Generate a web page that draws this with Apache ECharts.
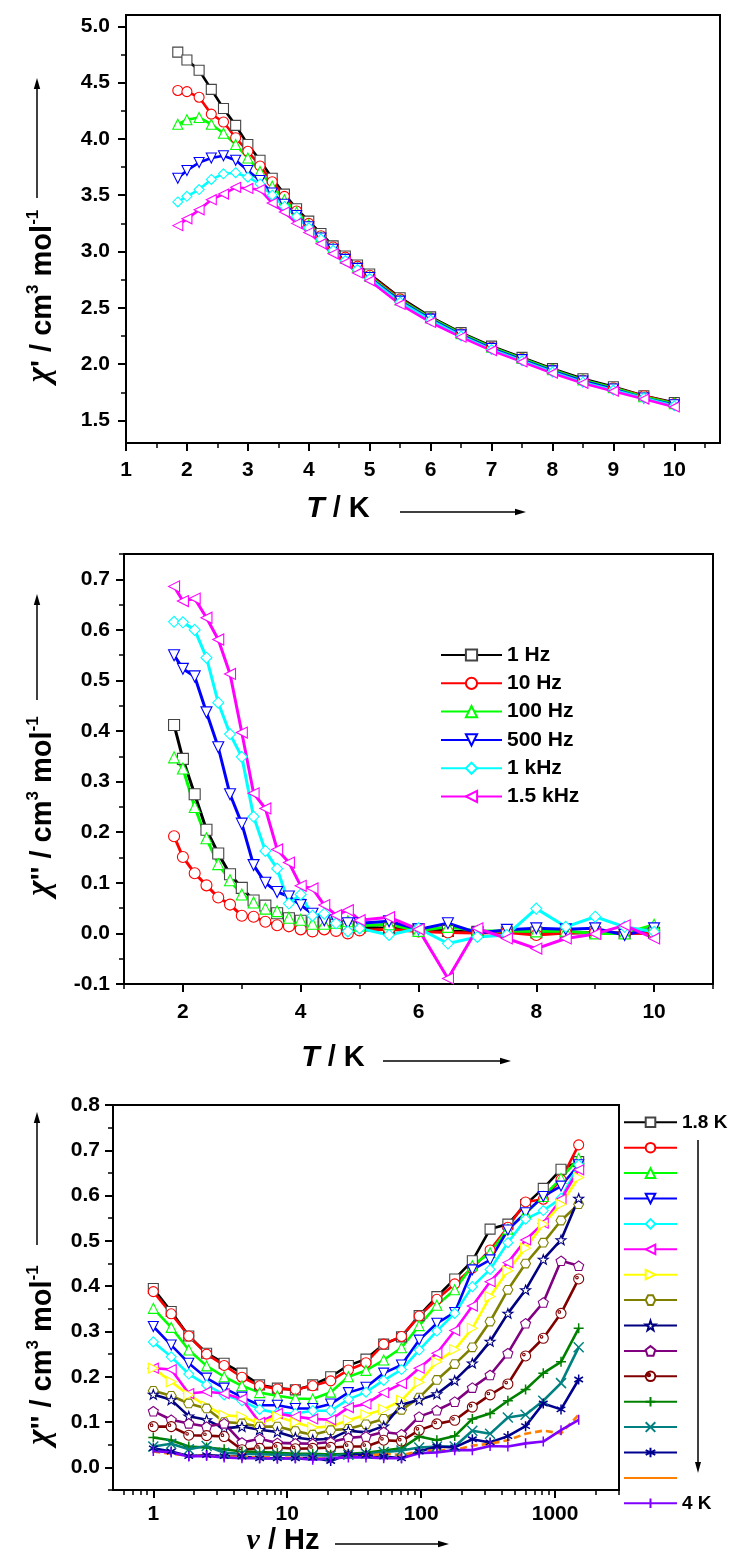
<!DOCTYPE html>
<html><head><meta charset="utf-8">
<script src="https://cdn.jsdelivr.net/npm/echarts@6/dist/echarts.min.js"></script>
<style>html,body{margin:0;padding:0;background:#fff}#c{width:733px;height:1558px}</style>
</head><body><div id="c"></div>
<script>
// ---------- Panel 1 & 2: temperature sweep ----------
const T = [1.85, 2.0, 2.2, 2.4, 2.6, 2.8, 3.0, 3.2, 3.4, 3.6, 3.8, 4.0, 4.2, 4.4, 4.6, 4.8, 5.0, 5.5, 6.0, 6.5, 7.0, 7.5, 8.0, 8.5, 9.0, 9.5, 10.0];
const freqNames = ['1 Hz', '10 Hz', '100 Hz', '500 Hz', '1 kHz', '1.5 kHz'];

const chiP_1Hz    = [4.77, 4.70, 4.61, 4.44, 4.27, 4.12, 3.95, 3.81, 3.65, 3.51, 3.38, 3.27, 3.16, 3.05, 2.96, 2.88, 2.80, 2.59, 2.42, 2.28, 2.16, 2.06, 1.96, 1.87, 1.80, 1.72, 1.66];
const chiP_10Hz   = [4.43, 4.42, 4.37, 4.22, 4.15, 4.01, 3.89, 3.76, 3.62, 3.49, 3.36, 3.25, 3.14, 3.04, 2.95, 2.87, 2.79, 2.58, 2.41, 2.27, 2.15, 2.05, 1.95, 1.86, 1.79, 1.72, 1.65];
const chiP_100Hz  = [4.13, 4.17, 4.19, 4.13, 4.05, 3.95, 3.83, 3.71, 3.58, 3.46, 3.35, 3.24, 3.13, 3.03, 2.94, 2.86, 2.78, 2.57, 2.41, 2.27, 2.15, 2.05, 1.95, 1.86, 1.79, 1.71, 1.65];
const chiP_500Hz  = [3.65, 3.72, 3.79, 3.83, 3.85, 3.81, 3.72, 3.63, 3.52, 3.42, 3.32, 3.22, 3.12, 3.02, 2.93, 2.85, 2.77, 2.56, 2.40, 2.26, 2.14, 2.04, 1.94, 1.85, 1.78, 1.70, 1.64];
const chiP_1kHz   = [3.44, 3.49, 3.55, 3.64, 3.69, 3.70, 3.66, 3.60, 3.50, 3.40, 3.31, 3.21, 3.11, 3.01, 2.92, 2.84, 2.76, 2.55, 2.39, 2.25, 2.13, 2.03, 1.93, 1.84, 1.77, 1.70, 1.63];
const chiP_1p5kHz = [3.23, 3.29, 3.37, 3.46, 3.51, 3.57, 3.56, 3.55, 3.43, 3.35, 3.25, 3.17, 3.07, 2.98, 2.90, 2.81, 2.74, 2.53, 2.37, 2.24, 2.12, 2.02, 1.92, 1.83, 1.76, 1.69, 1.62];

const chiPP_1Hz    = [0.412, 0.345, 0.275, 0.205, 0.158, 0.117, 0.090, 0.065, 0.055, 0.040, 0.030, 0.025, 0.022, 0.020, 0.017, 0.014, 0.012, 0.010, 0.008, 0.005, 0.003, 0.002, 0.002, 0.001, 0.002, 0.001, 0.001];
const chiPP_10Hz   = [0.192, 0.151, 0.119, 0.095, 0.071, 0.057, 0.035, 0.033, 0.023, 0.016, 0.014, 0.008, 0.004, 0.008, 0.005, 0.000, 0.006, 0.008, 0.004, 0.002, 0.001, 0.002, -0.003, 0.001, 0.002, 0.000, 0.001];
const chiPP_100Hz  = [0.348, 0.326, 0.250, 0.188, 0.137, 0.105, 0.077, 0.061, 0.049, 0.044, 0.031, 0.027, 0.019, 0.019, 0.021, 0.024, 0.015, 0.018, 0.005, 0.013, 0.005, 0.005, 0.004, 0.005, 0.000, 0.000, 0.017];
const chiPP_500Hz  = [0.550, 0.523, 0.508, 0.437, 0.368, 0.275, 0.217, 0.135, 0.100, 0.082, 0.073, 0.056, 0.039, 0.026, 0.026, 0.020, 0.020, 0.024, 0.008, 0.020, 0.001, 0.007, 0.010, 0.008, 0.010, -0.003, 0.010];
const chiPP_1kHz   = [0.616, 0.615, 0.600, 0.545, 0.456, 0.394, 0.349, 0.231, 0.163, 0.128, 0.059, 0.077, 0.035, 0.039, 0.020, 0.004, 0.010, -0.003, 0.010, -0.020, -0.007, -0.003, 0.049, 0.013, 0.033, 0.013, 0.003];
const chiPP_1p5kHz = [0.686, 0.657, 0.662, 0.624, 0.581, 0.513, 0.397, 0.277, 0.247, 0.166, 0.140, 0.094, 0.089, 0.056, 0.036, 0.046, 0.026, 0.032, 0.008, -0.089, 0.010, -0.010, -0.030, -0.010, -0.001, 0.016, -0.010];

// ---------- Panel 3: frequency sweep ----------
const nu = [1, 1.36, 1.84, 2.5, 3.38, 4.59, 6.22, 8.44, 11.5, 15.5, 21.1, 28.6, 38.7, 52.5, 71.3, 96.6, 131, 178, 241, 327, 444, 602, 816, 1107, 1500];
const tempNames = ['1.8 K', '1.9 K', '2.0 K', '2.1 K', '2.2 K', '2.3 K', '2.4 K', '2.5 K', '2.6 K', '2.8 K', '3.0 K', '3.2 K', '3.4 K', '3.6 K', '3.8 K', '4 K'];
const v01 = [0.395, 0.344, 0.290, 0.252, 0.230, 0.208, 0.182, 0.175, 0.171, 0.182, 0.200, 0.225, 0.239, 0.272, 0.288, 0.335, 0.377, 0.416, 0.456, 0.526, 0.537, 0.580, 0.616, 0.658, 0.675];
const v02 = [0.388, 0.339, 0.290, 0.250, 0.225, 0.199, 0.180, 0.173, 0.172, 0.180, 0.191, 0.215, 0.231, 0.272, 0.289, 0.334, 0.371, 0.405, 0.440, 0.480, 0.530, 0.586, 0.592, 0.635, 0.712];
const v03 = [0.351, 0.309, 0.259, 0.224, 0.200, 0.180, 0.165, 0.158, 0.152, 0.151, 0.166, 0.200, 0.214, 0.237, 0.264, 0.313, 0.358, 0.392, 0.445, 0.474, 0.526, 0.561, 0.598, 0.638, 0.682];
const v04 = [0.311, 0.270, 0.230, 0.197, 0.175, 0.155, 0.137, 0.137, 0.130, 0.130, 0.140, 0.165, 0.177, 0.208, 0.226, 0.281, 0.318, 0.342, 0.436, 0.458, 0.524, 0.562, 0.598, 0.621, 0.668];
const v05 = [0.277, 0.244, 0.206, 0.182, 0.160, 0.147, 0.128, 0.120, 0.119, 0.125, 0.125, 0.150, 0.166, 0.192, 0.216, 0.259, 0.301, 0.340, 0.399, 0.437, 0.496, 0.548, 0.567, 0.594, 0.668];
const v06 = [0.219, 0.216, 0.163, 0.167, 0.163, 0.151, 0.099, 0.119, 0.112, 0.107, 0.105, 0.132, 0.140, 0.165, 0.185, 0.219, 0.252, 0.302, 0.356, 0.410, 0.452, 0.502, 0.539, 0.592, 0.657];
const v07 = [0.219, 0.189, 0.160, 0.135, 0.115, 0.112, 0.097, 0.112, 0.099, 0.088, 0.090, 0.104, 0.116, 0.128, 0.148, 0.188, 0.233, 0.260, 0.307, 0.377, 0.434, 0.484, 0.537, 0.581, 0.640];
const v08 = [0.169, 0.158, 0.141, 0.130, 0.100, 0.097, 0.090, 0.090, 0.080, 0.072, 0.082, 0.085, 0.095, 0.107, 0.127, 0.154, 0.193, 0.228, 0.265, 0.322, 0.392, 0.450, 0.496, 0.545, 0.581];
const v09 = [0.161, 0.149, 0.113, 0.105, 0.086, 0.090, 0.083, 0.078, 0.066, 0.061, 0.063, 0.081, 0.077, 0.091, 0.138, 0.149, 0.162, 0.192, 0.230, 0.278, 0.340, 0.392, 0.459, 0.502, 0.594];
const v10 = [0.124, 0.105, 0.097, 0.090, 0.097, 0.055, 0.063, 0.054, 0.053, 0.052, 0.056, 0.065, 0.068, 0.078, 0.073, 0.112, 0.126, 0.145, 0.176, 0.204, 0.252, 0.318, 0.364, 0.456, 0.445];
const v11 = [0.090, 0.090, 0.071, 0.070, 0.068, 0.039, 0.042, 0.044, 0.041, 0.042, 0.044, 0.046, 0.046, 0.060, 0.058, 0.082, 0.096, 0.104, 0.133, 0.160, 0.184, 0.246, 0.285, 0.340, 0.416];
const v12 = [0.066, 0.060, 0.046, 0.044, 0.040, 0.035, 0.034, 0.032, 0.030, 0.030, 0.028, 0.030, 0.032, 0.037, 0.042, 0.068, 0.060, 0.069, 0.107, 0.119, 0.147, 0.172, 0.208, 0.233, 0.307];
const v13 = [0.046, 0.052, 0.040, 0.047, 0.032, 0.030, 0.029, 0.028, 0.028, 0.027, 0.026, 0.028, 0.030, 0.034, 0.037, 0.044, 0.046, 0.046, 0.081, 0.074, 0.110, 0.116, 0.147, 0.186, 0.265];
const v14 = [0.042, 0.035, 0.025, 0.027, 0.025, 0.024, 0.020, 0.020, 0.020, 0.021, 0.014, 0.029, 0.027, 0.024, 0.020, 0.035, 0.046, 0.044, 0.062, 0.055, 0.069, 0.091, 0.141, 0.128, 0.194];
const v15 = [0.035, 0.030, 0.026, 0.025, 0.024, 0.023, 0.022, 0.022, 0.021, 0.019, 0.020, 0.022, 0.025, 0.030, 0.027, 0.035, 0.038, 0.038, 0.048, 0.052, 0.060, 0.074, 0.081, 0.075, 0.116];
const v16 = [0.036, 0.033, 0.024, 0.025, 0.022, 0.020, 0.020, 0.019, 0.020, 0.017, 0.020, 0.022, 0.022, 0.020, 0.020, 0.031, 0.033, 0.038, 0.038, 0.047, 0.046, 0.053, 0.057, 0.082, 0.105];

// ---------- tick values ----------
const p1xTicks = [1, 2, 3, 4, 5, 6, 7, 8, 9, 10];
const p1xMinor = [1.5, 2.5, 3.5, 4.5, 5.5, 6.5, 7.5, 8.5, 9.5, 10.5];
const p1yTicks = [1.5, 2.0, 2.5, 3.0, 3.5, 4.0, 4.5, 5.0];
const p1yMinor = [1.75, 2.25, 2.75, 3.25, 3.75, 4.25, 4.75];
const p2xTicks = [2, 4, 6, 8, 10];
const p2xMinor = [1, 3, 5, 7, 9, 11];
const p2yTicks = [-0.1, 0.0, 0.1, 0.2, 0.3, 0.4, 0.5, 0.6, 0.7];
const p2yMinor = [-0.05, 0.05, 0.15, 0.25, 0.35, 0.45, 0.55, 0.65, 0.75];
const p3xTicks = [1, 10, 100, 1000];
const p3xMinor = [0.6, 0.7, 0.8, 0.9, 2, 3, 4, 5, 6, 7, 8, 9, 20, 30, 40, 50, 60, 70, 80, 90, 200, 300, 400, 500, 600, 700, 800, 900, 2000, 3000];
const p3yTicks = [0.0, 0.1, 0.2, 0.3, 0.4, 0.5, 0.6, 0.7, 0.8];
const p3yMinor = [-0.05, 0.05, 0.15, 0.25, 0.35, 0.45, 0.55, 0.65, 0.75];

// ---------- styles ----------
const FONT = '"Liberation Sans", Arial, sans-serif';
const HEX = 'path://M2.5,0.67L7.5,0.67L10,5L7.5,9.33L2.5,9.33L0,5Z';
const STAR = 'path://M5,0L6.18,3.38L9.76,3.45L6.9,5.62L7.94,9.05L5,7L2.06,9.05L3.1,5.62L0.24,3.45L3.82,3.38Z';
const PENT = 'path://M5,0L9.76,3.45L7.94,9.05L2.06,9.05L0.24,3.45Z';
const SPH = 'path://M10,5A5,5,0,1,1,0,5A5,5,0,1,1,10,5ZM4.6,3.6A1.3,1.3,0,1,1,2,3.6A1.3,1.3,0,1,1,4.6,3.6Z';
const PLUS = 'path://M5,0L5,10M0,5L10,5';
const CROSS = 'path://M0,0L10,10M10,0L0,10';
const AST = 'path://M5,0L5,10M0.67,2.5L9.33,7.5M9.33,2.5L0.67,7.5';
const VBAR = 'path://M5,0L5,10M0,5L0.01,5M9.99,5L10,5';

const hzStyles = [
  { c: '#000000', b: '#444444', s: 'rect', r: 0 },
  { c: '#ff0000', s: 'circle', r: 0 },
  { c: '#00ff00', s: 'triangle', r: 0 },
  { c: '#0000ff', s: 'triangle', r: 180 },
  { c: '#00ffff', s: 'diamond', r: 0 },
  { c: '#ff00ff', s: 'triangle', r: 90 }
];
const tStyles = [
  { c: '#000000', b: '#444444', s: 'rect' },
  { c: '#ff0000', s: 'circle' },
  { c: '#00ff00', s: 'triangle' },
  { c: '#0000ff', s: 'triangle', r: 180 },
  { c: '#00ffff', s: 'diamond' },
  { c: '#ff00ff', s: 'triangle', r: 90 },
  { c: '#ffff00', s: 'triangle', r: -90 },
  { c: '#808000', s: HEX },
  { c: '#000080', s: STAR },
  { c: '#800080', s: PENT },
  { c: '#800000', s: SPH },
  { c: '#008000', s: PLUS, open: true },
  { c: '#008080', s: CROSS, open: true },
  { c: '#000090', s: AST, open: true },
  { c: '#ff8000', s: 'circle', none: true, dash: true },
  { c: '#8000ff', s: VBAR, open: true }
];

function mkSeries(name, xs, ys, st, ai, lw, ss) {
  return {
    type: 'line', name: name, xAxisIndex: ai, yAxisIndex: ai,
    data: xs.map((x, i) => [x, ys[i]]),
    symbol: st.s, symbolSize: st.none ? 1 : ss, symbolRotate: st.r || 0, symbolKeepAspect: true,
    showSymbol: true, animation: false, silent: true,
    lineStyle: { color: st.c, width: lw, type: st.dash ? [7, 4] : 'solid' },
    itemStyle: st.none ? { color: 'rgba(0,0,0,0)', borderWidth: 0 } :
      { color: '#ffffff', borderColor: st.b || st.c, borderWidth: st.open ? 1.5 : 1.1 },
    emphasis: { disabled: true }
  };
}

const lbl = { fontFamily: FONT, fontWeight: 'bold', fontSize: 21, color: '#000' };
function mainX(gi, type, min, max, ticks, margin) {
  return { gridIndex: gi, type: type, position: 'bottom', min: min, max: max, logBase: 10,
    axisLine: { onZero: false, lineStyle: { color: '#000', width: 2 } },
    axisTick: { customValues: ticks, length: 8, lineStyle: { color: '#000', width: 2 } },
    axisLabel: Object.assign({ customValues: ticks, margin: margin, formatter: v => String(v) }, lbl),
    splitLine: { show: false }, minorTick: { show: false } };
}
function minorX(gi, type, min, max, ticks) {
  return { gridIndex: gi, type: type, position: 'bottom', min: min, max: max, logBase: 10,
    axisLine: { show: false, onZero: false },
    axisTick: { customValues: ticks, length: 5, lineStyle: { color: '#000', width: 1.5 } },
    axisLabel: { show: false }, splitLine: { show: false } };
}
function mainY(gi, min, max, ticks, margin) {
  return { gridIndex: gi, type: 'value', position: 'left', min: min, max: max,
    axisLine: { onZero: false, lineStyle: { color: '#000', width: 2 } },
    axisTick: { customValues: ticks, length: 8, lineStyle: { color: '#000', width: 2 } },
    axisLabel: Object.assign({ customValues: ticks, margin: margin, formatter: v => Number(v).toFixed(1) }, lbl),
    splitLine: { show: false } };
}
function minorY(gi, min, max, ticks) {
  return { gridIndex: gi, type: 'value', position: 'left', min: min, max: max,
    axisLine: { show: false, onZero: false },
    axisTick: { customValues: ticks, length: 5, lineStyle: { color: '#000', width: 1.5 } },
    axisLabel: { show: false }, splitLine: { show: false } };
}

const chiPSets = [chiP_1Hz, chiP_10Hz, chiP_100Hz, chiP_500Hz, chiP_1kHz, chiP_1p5kHz];
const chiPPSets = [chiPP_1Hz, chiPP_10Hz, chiPP_100Hz, chiPP_500Hz, chiPP_1kHz, chiPP_1p5kHz];
const nuSets = [v01, v02, v03, v04, v05, v06, v07, v08, v09, v10, v11, v12, v13, v14, v15, v16];

const series = [];
freqNames.forEach((n, k) => series.push(mkSeries(n, T, chiPSets[k], hzStyles[k], 0, 2.6, 10)));
freqNames.forEach((n, k) => series.push(mkSeries(n, T, chiPPSets[k], hzStyles[k], 2, 3, 11)));
tempNames.forEach((n, k) => series.push(mkSeries(n, nu, nuSets[k], tStyles[k], 4, 2.6, 10)));

// ---------- titles ----------
function yTitle(x, y, primes) {
  return { type: 'text', x: x, y: y, rotation: Math.PI / 2, silent: true,
    style: { text: '{g|χ}{n|' + primes + ' / cm}{s|3}{n| mol}{s|-1}', align: 'center', verticalAlign: 'middle',
      rich: {
        g: { fontFamily: '"Liberation Serif", serif', fontStyle: 'italic', fontWeight: 'bold', fontSize: 33, fill: '#000', verticalAlign: 'bottom', lineHeight: 32 },
        n: { fontFamily: FONT, fontWeight: 'bold', fontSize: 29, fill: '#000', verticalAlign: 'bottom', lineHeight: 32 },
        s: { fontFamily: FONT, fontWeight: 'bold', fontSize: 17, fill: '#000', verticalAlign: 'top', lineHeight: 17 }
      } } };
}
function xTitle(x, y, first, firstFont, rest) {
  return { type: 'text', x: x, y: y, silent: true,
    style: { text: '{a|' + first + '}{n|' + rest + '}', align: 'center', verticalAlign: 'middle',
      rich: {
        a: { fontFamily: firstFont, fontStyle: 'italic', fontWeight: 'bold', fontSize: 30, fill: '#000' },
        n: { fontFamily: FONT, fontWeight: 'bold', fontSize: 29, fill: '#000' }
      } } };
}
function arrowUp(x, y0, y1) {
  return [
    { type: 'line', silent: true, shape: { x1: x, y1: y0, x2: x, y2: y1 + 8 }, style: { stroke: '#000', lineWidth: 1.5 } },
    { type: 'polygon', silent: true, shape: { points: [[x, y1], [x - 3.2, y1 + 11], [x + 3.2, y1 + 11]] }, style: { fill: '#000' } }
  ];
}
function arrowRight(y, x0, x1) {
  return [
    { type: 'line', silent: true, shape: { x1: x0, y1: y, x2: x1 - 8, y2: y }, style: { stroke: '#000', lineWidth: 1.5 } },
    { type: 'polygon', silent: true, shape: { points: [[x1, y], [x1 - 11, y - 3.2], [x1 - 11, y + 3.2]] }, style: { fill: '#000' } }
  ];
}
function arrowDown(x, y0, y1) {
  return [
    { type: 'line', silent: true, shape: { x1: x, y1: y0, x2: x, y2: y1 - 8 }, style: { stroke: '#000', lineWidth: 1.5 } },
    { type: 'polygon', silent: true, shape: { points: [[x, y1], [x - 3, y1 - 11], [x + 3, y1 - 11]] }, style: { fill: '#000' } }
  ];
}

const graphics = [].concat(
  [yTitle(41, 296, "'")], arrowUp(37, 198, 78),
  [xTitle(338, 509, 'T', FONT, ' / K')], arrowRight(512, 400, 526),
  [yTitle(41, 806, "''")], arrowUp(37, 700, 594),
  [xTitle(333, 1058, 'T', FONT, ' / K')], arrowRight(1061, 383, 511),
  [yTitle(41, 1355, "''")], arrowUp(37, 1245, 1112),
  [xTitle(283, 1541, 'ν', '"Liberation Serif", serif', ' / Hz')], arrowRight(1544, 335, 449),
  arrowDown(698, 1140, 1473)
);

const chart = echarts.init(document.getElementById('c'), null, { renderer: 'canvas', width: 733, height: 1558 });
chart.setOption({
  animation: false,
  backgroundColor: '#ffffff',
  grid: [
    { left: 126, top: 15, width: 594, height: 428, show: true, borderColor: '#000', borderWidth: 2, backgroundColor: 'transparent' },
    { left: 124, top: 554, width: 589, height: 430, show: true, borderColor: '#000', borderWidth: 2, backgroundColor: 'transparent' },
    { left: 113, top: 1105, width: 506, height: 385, show: true, borderColor: '#000', borderWidth: 2, backgroundColor: 'transparent' }
  ],
  xAxis: [
    mainX(0, 'value', 1, 10.75, p1xTicks, 17), minorX(0, 'value', 1, 10.75, p1xMinor),
    mainX(1, 'value', 1, 11, p2xTicks, 18), minorX(1, 'value', 1, 11, p2xMinor),
    mainX(2, 'log', 0.5, 3000, p3xTicks, 14), minorX(2, 'log', 0.5, 3000, p3xMinor)
  ],
  yAxis: [
    mainY(0, 1.3, 5.1, p1yTicks, 16), minorY(0, 1.3, 5.1, p1yMinor),
    mainY(1, -0.1, 0.75, p2yTicks, 14), minorY(1, -0.1, 0.75, p2yMinor),
    mainY(2, -0.05, 0.8, p3yTicks, 13), minorY(2, -0.05, 0.8, p3yMinor)
  ],
  legend: [
    { data: freqNames, orient: 'vertical', left: 440, top: 644.5, padding: 0, itemWidth: 61, itemHeight: 14, itemGap: 7.3,
      selectedMode: false, textStyle: { fontFamily: FONT, fontWeight: 'bold', fontSize: 21, color: '#000' } },
    { data: tempNames, orient: 'vertical', left: 623, top: 1112.8, padding: 0, itemWidth: 53, itemHeight: 12, itemGap: 6.4,
      selectedMode: false, lineStyle: { type: 'solid' },
      formatter: n => (n === tempNames[0] || n === tempNames[tempNames.length - 1]) ? n : ' ',
      textStyle: { fontFamily: FONT, fontWeight: 'bold', fontSize: 19, color: '#000' } }
  ],
  graphic: graphics,
  series: series
});
</script>
</body></html>
